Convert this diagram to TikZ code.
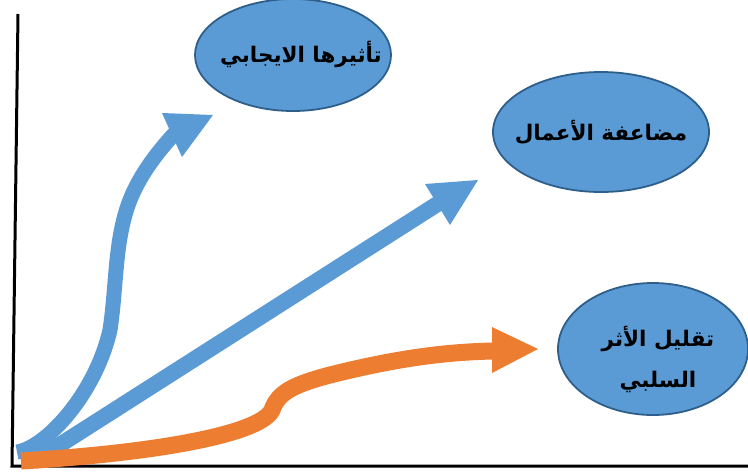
\documentclass[tikz,border=0pt]{standalone}
\usepackage{fontspec}
\TeXXeTstate=1
\newfontfamily\arabicfont[Script=Arabic]{DejaVu Sans}
\usetikzlibrary{shapes.geometric}
\definecolor{obl}{HTML}{5B9BD5}
\definecolor{oor}{HTML}{ED7D31}
\definecolor{edg}{HTML}{2E5F8A}
\begin{document}
\begin{tikzpicture}[x=1pt,y=-1pt,
  bubble/.style={ellipse, draw=edg, line width=1.8pt, fill=obl, inner sep=0pt},
  bubbletext/.style={font=\fontsize{21.5pt}{41pt}\selectfont\arabicfont\bfseries, align=center, inner sep=0pt},
  axis/.style={line width=3pt, draw=black, line join=miter},
  blueshaft/.style={draw=obl, line width=16pt},
  orangeshaft/.style={draw=oor, line width=17pt},
]
\useasboundingbox (0,0) rectangle (748,475);
\fill[white] (0,0) rectangle (748,475);

% axes
\coordinate (ytop) at (18,14);
\coordinate (orig) at (12,466);
\coordinate (xend) at (748,466);
\draw[axis] (ytop) -- (orig) -- (xend);

% ellipses
\node[bubble, minimum width=196pt, minimum height=112pt,
  label={[bubbletext, xshift=8pt, yshift=1pt]center:\beginR تأثيرها الايجابي\endR}] (pos) at (293,55) {};
\node[bubble, minimum width=216pt, minimum height=120pt,
  label={[bubbletext]center:\beginR مضاعفة الأعمال\endR}] (mul) at (601,132) {};
\node[bubble, minimum width=190pt, minimum height=132pt,
  label={[bubbletext, xshift=5pt, yshift=-10pt]center:\beginR تقليل الأثر\endR\\\beginR السلبي\endR}] (neg) at (653,349) {};

% blue straight arrow
\coordinate (s2) at (33,462);
\coordinate (e2) at (439,203);
\coordinate (h2a) at (425,184);
\coordinate (h2b) at (450,225);
\coordinate (h2t) at (478,180);
\draw[blueshaft] (s2) -- (e2);
\fill[obl] (h2a) -- (h2t) -- (h2b) -- cycle;

% blue curved arrow
\coordinate (s1) at (17,452);
\coordinate (m1) at (110,330);
\coordinate (n1) at (125,215);
\coordinate (e1) at (175,133);
\coordinate (h1a) at (162,113);
\coordinate (h1b) at (182,157);
\coordinate (h1t) at (213,115);
\draw[blueshaft, line width=15pt] (s1) .. controls (45,448) and (95,395) .. (m1)
   .. controls (116,290) and (115,250) .. (n1)
   .. controls (133,185) and (152,158) .. (e1);
\fill[obl] (h1a) -- (h1t) -- (h1b) -- cycle;

% orange arrow
\coordinate (s3) at (21,461);
\coordinate (b3) at (272,410);
\coordinate (c3) at (330,375);
\coordinate (e3) at (494,351);
\coordinate (h3a) at (492,327);
\coordinate (h3b) at (492,373);
\coordinate (h3t) at (538,349);
\draw[orangeshaft] (s3) .. controls (170,452) and (262,432) .. (b3)
   .. controls (278,393) and (292,385) .. (c3)
   .. controls (390,360) and (440,352) .. (e3);
\fill[oor] (h3a) -- (h3t) -- (h3b) -- cycle;
\end{tikzpicture}
\end{document}
